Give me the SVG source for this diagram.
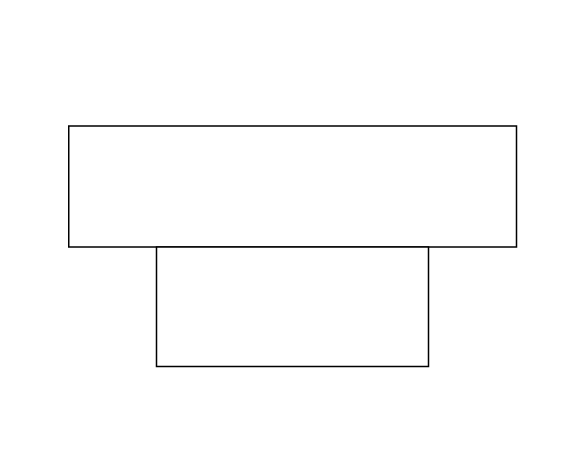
<svg xmlns="http://www.w3.org/2000/svg" width="585" height="471" viewBox="0 0 585 471">
<style>.box{fill:#ffffff;stroke:#000000;stroke-width:1.5}</style>
<rect width="585" height="471" fill="#ffffff"/>
<g id="node-top"><rect class="box" x="68.75" y="126" width="447.75" height="121"/></g>
<g id="node-bottom"><rect class="box" x="156.5" y="247" width="272" height="119.5"/></g>
<g id="connectors"></g>
</svg>
